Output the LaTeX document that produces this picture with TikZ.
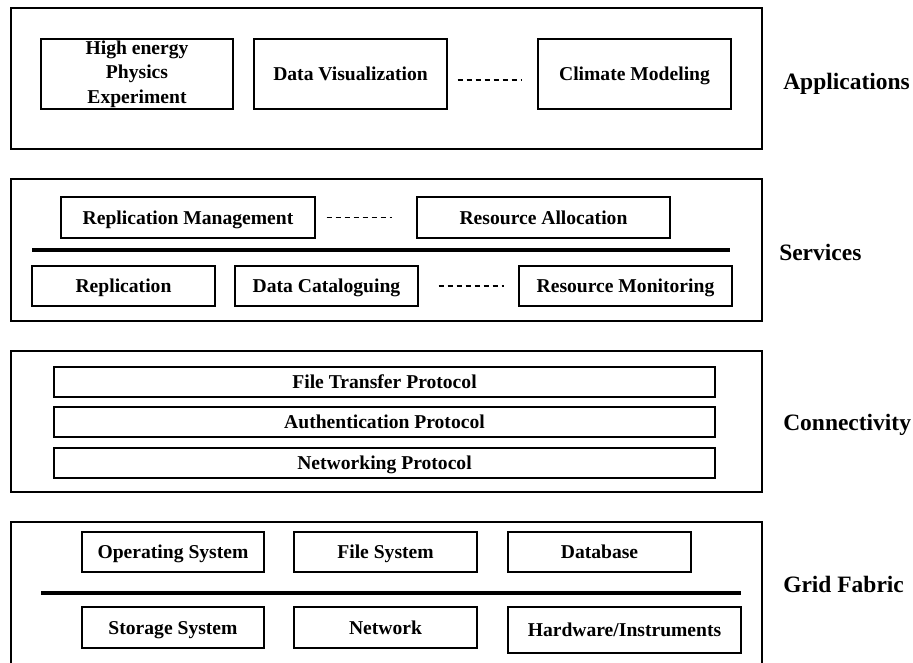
\documentclass[tikz,border=0pt]{standalone}
\usepackage{fontspec}
\setmainfont{Liberation Serif}
\begin{document}
\begin{tikzpicture}[x=0.75pt,y=-0.75pt,
  layer/.style={draw, line width=0.8pt, inner sep=0pt},
  boxed/.style={draw, line width=0.9pt, inner sep=0pt,
    font=\fontsize{14.7}{18.4}\selectfont\bfseries},
  multi/.style={boxed, align=center},
  unit/.style={boxed, text height=9.8pt, text depth=0pt},
  sz/.style n args={2}{minimum width=#1*0.75pt, minimum height=#2*0.75pt},
  tag/.style={anchor=base west, inner sep=0pt,
    font=\fontsize{17.6}{21}\selectfont\bfseries},
  etc/.style={line width=0.9pt, dash pattern=on 3.75pt off 3pt},
  divider/.style={line width=2.6pt}]
\useasboundingbox (0,0) rectangle (913,663);
\clip (0,0) rectangle (913,663);

% ---- Applications layer
\node[layer, sz={751}{141}] (app) at (386.5,78.5) {};
\node[multi, sz={192}{70}] (hep) at (137,74) {High energy\\Physics\\Experiment};
\node[unit, sz={193}{70}] (dv) at (350.5,74) {Data Visualization};
\node[unit, sz={193}{70}] (cm) at (634.5,74) {Climate Modeling};
\draw[etc] ([xshift=7.5pt,yshift=-4.5pt]dv.east) -- ([xshift=-11.25pt,yshift=-4.5pt]cm.west);
\node[tag] (lapp) at (783,90) {Applications};

% ---- Services layer
\node[layer, sz={751}{142}] (srv) at (386.5,250) {};
\node[unit, sz={254}{41}] (rm) at (188,217.5) {Replication Management};
\node[unit, sz={253}{41}] (ra) at (543.5,217.5) {Resource Allocation};
\draw[etc] ([xshift=8.25pt]rm.east) -- ([xshift=-18pt]ra.west);
\coordinate (s1) at (32,250);
\coordinate (s2) at (730,250);
\draw[divider] (s1) -- (s2);
\node[unit, sz={183}{40}] (rep) at (123.5,286) {Replication};
\node[unit, sz={183}{40}] (dc) at (326.5,286) {Data Cataloguing};
\node[unit, sz={213}{40}] (rmon) at (625.5,286) {Resource Monitoring};
\draw[etc] ([xshift=15pt]dc.east) -- ([xshift=-10.5pt]rmon.west);
\node[tag] (lsrv) at (779,260) {Services};

% ---- Connectivity layer
\node[layer, sz={751}{141}] (con) at (386.5,421.5) {};
\node[unit, sz={661}{30}] (ftp) at (384.5,382) {File Transfer Protocol};
\node[unit, sz={661}{30}] (auth) at (384.5,422) {Authentication Protocol};
\node[unit, sz={661}{30}] (netp) at (384.5,463) {Networking Protocol};
\node[tag] (lcon) at (783,430) {Connectivity};

% ---- Grid Fabric layer
\node[layer, sz={751}{158}] (fab) at (386.5,601) {};
\node[unit, sz={182}{40}] (os) at (173,552) {Operating System};
\node[unit, sz={183}{40}] (fs) at (385.5,552) {File System};
\node[unit, sz={183}{40}] (db) at (599.5,552) {Database};
\coordinate (g1) at (41,593);
\coordinate (g2) at (741,593);
\draw[divider] (g1) -- (g2);
\node[unit, sz={182}{41}] (ss) at (173,627.5) {Storage System};
\node[unit, sz={183}{41}] (net) at (385.5,627.5) {Network};
\node[unit, sz={233}{46}] (hw) at (624.5,630) {Hardware/Instruments};
\node[tag] (lfab) at (783,592) {Grid Fabric};
\end{tikzpicture}
\end{document}
